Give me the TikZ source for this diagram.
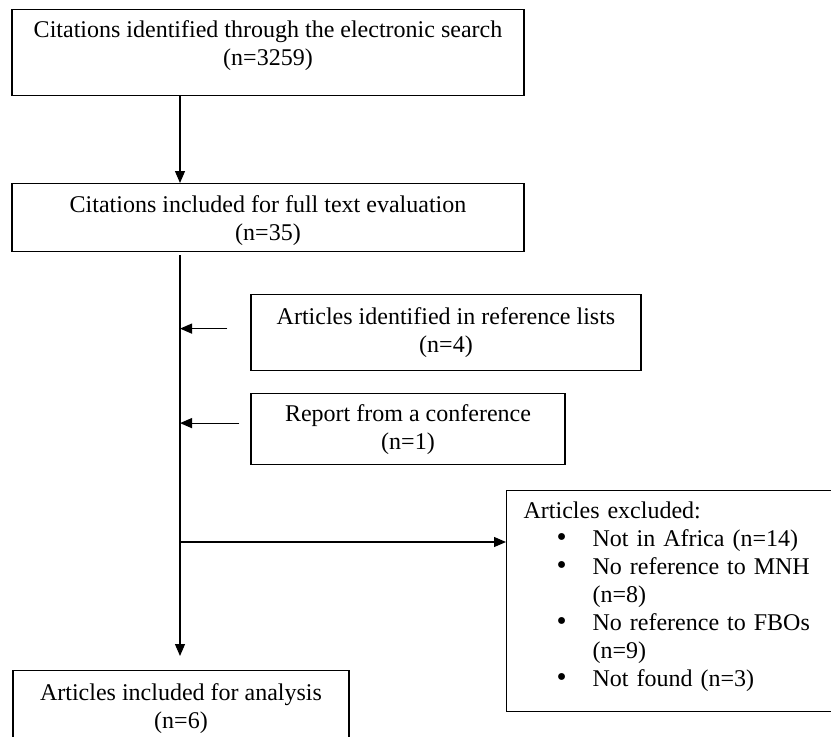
\documentclass[tikz,border=0pt]{standalone}
\usepackage{fontspec}
\setmainfont{Liberation Serif}
\usetikzlibrary{arrows.meta}

\newcommand{\bigbullet}{\makebox[36pt][l]{\scalebox{1.2}{\textbullet}}}

\begin{document}
\begin{tikzpicture}[x=1pt,y=-1pt,line width=1.2pt,>={Triangle[length=12pt,width=10pt]}]
        \tikzstyle{box}=[draw,anchor=north,align=center,inner sep=0pt,font=\fontsize{24}{28}\selectfont]
        \tikzstyle{listbox}=[draw,anchor=north west,align=left,inner ysep=0pt,inner xsep=17pt,font=\fontsize{24}{28}\selectfont]

        \useasboundingbox (0,0) rectangle (831,737);

        \node[box,minimum width=512pt,text height=56pt,text depth=30pt](search) at (268,9){Citations identified through the electronic search\\(n=3259)};
        \node[box,minimum width=512pt,text height=57pt,text depth=11pt](fulltext) at (268,183){Citations included for full text evaluation\\(n=35)};
        \node[box,minimum width=390pt,text height=58pt,text depth=18pt](reflists) at (446,294){Articles identified in reference lists\\(n=4)};
        \node[box,minimum width=314pt,text height=56pt,text depth=15pt](conf) at (408,393){Report from a conference\\(n=1)};
        \node[listbox,text width=326pt,text height=28pt,text depth=193pt](excluded) at (506,490){Articles excluded:\\
                \hspace*{33pt}\bigbullet Not in Africa (n=14)\\
                \hspace*{33pt}\bigbullet No reference to MNH\\
                \hspace*{69pt}(n=8)\\
                \hspace*{33pt}\bigbullet No reference to FBOs\\
                \hspace*{69pt}(n=9)\\
                \hspace*{33pt}\bigbullet Not found (n=3)};
        \node[box,minimum width=336pt,text height=58pt,text depth=35pt](analysis) at (181,670){Articles included for analysis\\(n=6)};

        \coordinate (spine) at (180,255);
        \coordinate (split) at (180,542);

        \draw[->] (search.south -| spine) -- (fulltext.north -| spine);
        \draw[->,shorten >=14pt] (spine) -- (analysis.north -| spine);
        \draw[->] ([xshift=-23pt,yshift=4pt]reflists.west) -- ([yshift=4pt]reflists.west -| spine);
        \draw[->] ([xshift=-11pt,yshift=6pt]conf.west) -- ([yshift=6pt]conf.west -| spine);
        \draw[->] (split) -- (split -| excluded.west);

    \end{tikzpicture}
\end{document}
